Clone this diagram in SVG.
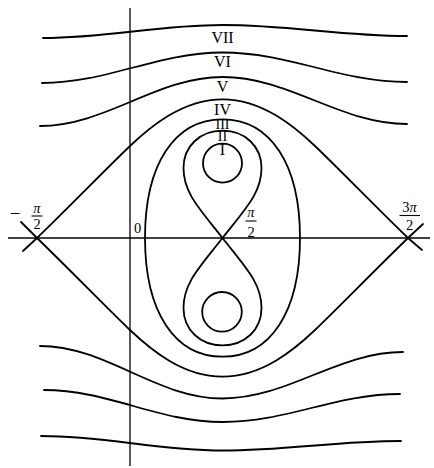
<svg xmlns="http://www.w3.org/2000/svg" width="434" height="468" viewBox="0 0 434 468">
<style>
.ax{stroke:#000;stroke-width:1.3;fill:none}
.c{stroke:#000;stroke-width:1.8;fill:none;stroke-linecap:round}
.lab{font-family:"Liberation Serif","DejaVu Serif",serif;font-size:16px;fill:#000;text-anchor:middle}
.sm{font-size:14px}
.fr{font-family:"Liberation Serif","DejaVu Serif",serif;font-size:14.5px;fill:#000;text-anchor:middle}
.pi{font-style:italic}
.bar{stroke:#000;stroke-width:1.1}
</style>
<rect width="434" height="468" fill="#fff"/>
<g id="axes">
<line class="ax" x1="8" y1="238" x2="430" y2="238"/>
<line class="ax" x1="130" y1="8" x2="130" y2="466"/>
</g>
<g id="labels">
<text class="lab" x="222.5" y="42.5">VII</text>
<text class="lab" x="222.5" y="66.5">VI</text>
<text class="lab" x="222.5" y="91.5">V</text>
<text class="lab" x="222.5" y="115">IV</text>
<text class="lab sm" x="222.5" y="128.5">III</text>
<text class="lab sm" x="222.5" y="141">II</text>
<text class="lab" x="222.5" y="155">I</text>
<text class="fr" x="137.5" y="233">0</text>
<text class="fr" x="15" y="220" style="font-size:19px">−</text>
<text class="fr pi" x="37" y="212.5">π</text>
<line class="bar" x1="31.5" y1="216" x2="42.5" y2="216"/>
<text class="fr" x="37" y="229">2</text>
<text class="fr pi" x="251" y="216.5">π</text>
<line class="bar" x1="245.5" y1="221" x2="256.5" y2="221"/>
<text class="fr" x="251" y="236.5">2</text>
<text class="fr" x="409.5" y="211.5">3<tspan class="pi">π</tspan></text>
<line class="bar" x1="399.5" y1="215.5" x2="420" y2="215.5"/>
<text class="fr" x="409.5" y="230">2</text>
</g>
<g id="curves">
<path id="VII" class="c" d="M43 38 C108.2 38 157.3 25 222.5 25 C289.5 25 340 36 407 36"/>
<path id="VI" class="c" d="M42 83 C107.5 83 157 52.5 222.5 52.5 C289.5 52.5 340 82 407 82"/>
<path id="V" class="c" d="M40 126 C106.2 126 156.3 77 222.5 77 C289.5 77 340 124 407 124"/>
<path id="IV-top" class="c" d="M23 251 L37 238 C68 208 110 165 130 146 C150 127 182.5 99.3 222.5 99.3 C262.5 99.3 295 127 315 146 C335 165 377 208 408 238 L422 250"/>
<path id="IV-bot" class="c" d="M21 222 L37 238 C68 268 110 311 130 330 C150 349 182.5 376.7 222.5 376.7 C262.5 376.7 295 349 315 330 C335 311 377 268 408 238 L423 224"/>
<path id="III" class="c" d="M145 238 C145 164.4 174.5 119.3 222.5 119.3 C270.5 119.3 300 164.4 300 238 C300 311.6 270.5 356.7 222.5 356.7 C174.5 356.7 145 311.6 145 238 Z"/>
<path id="II-top" class="c" d="M222.5 238 C199.3 208.4 183.5 193 183.5 168 C183.5 146.4 199.9 130.7 222.5 130.7 C245.1 130.7 261.5 146.4 261.5 168 C261.5 193 245.7 208.4 222.5 238 Z"/>
<path id="II-bot" class="c" d="M222.5 238 C199.3 267.6 183.5 283 183.5 308 C183.5 329.6 199.9 345.3 222.5 345.3 C245.1 345.3 261.5 329.6 261.5 308 C261.5 283 245.7 267.6 222.5 238 Z"/>
<circle id="I-top" class="c" cx="222.5" cy="163.2" r="19.5"/>
<circle id="I-bot" class="c" cx="222" cy="311.8" r="19.8"/>
<path id="Va" class="c" d="M40 346 C106.2 346 156.3 398.5 222.5 398.5 C288 398.5 337.5 352 403 352"/>
<path id="VIa" class="c" d="M44 390 C108.8 390 157.7 422 222.5 422 C286.9 422 335.6 394 400 394"/>
<path id="VIIa" class="c" d="M41 436 C106.9 436 156.6 450.5 222.5 450.5 C287.3 450.5 336.2 441 401 441"/>
</g>
</svg>
